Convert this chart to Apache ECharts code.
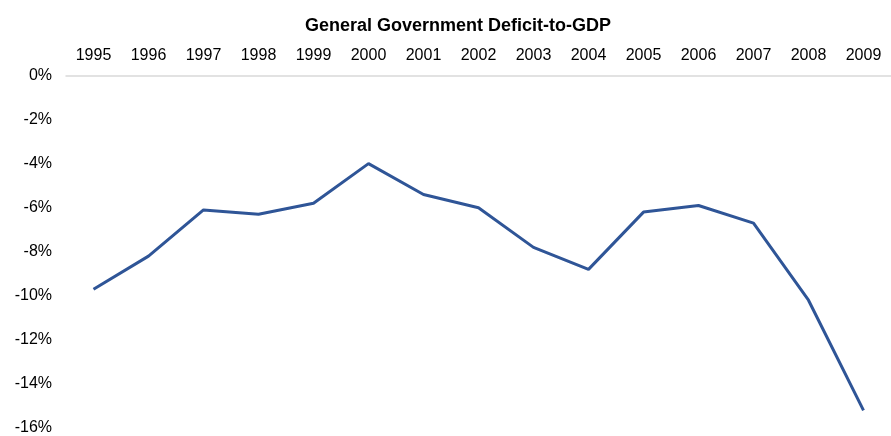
<!DOCTYPE html>
<html>
<head>
<meta charset="utf-8">
<script src="https://cdn.jsdelivr.net/npm/echarts@6/dist/echarts.min.js"></script>
<style>
  html, body { margin: 0; padding: 0; background: #fff; }
  #chart { width: 891px; height: 436px; }
</style>
</head>
<body>
<div id="chart"></div>
<script>
// General government balance as a share of GDP, in percent
const years = ['1995', '1996', '1997', '1998', '1999', '2000', '2001', '2002',
               '2003', '2004', '2005', '2006', '2007', '2008', '2009'];
const deficitToGdp = [-9.7, -8.2, -6.1, -6.3, -5.8, -4.0, -5.4, -6.0,
                      -7.8, -8.8, -6.2, -5.9, -6.7, -10.2, -15.2];
const yMin = -16;
const yMax = 0;
const yStep = 2;

const fontFamily = '"Liberation Sans", Arial, sans-serif';

const chart = echarts.init(document.getElementById('chart'), null, { renderer: 'canvas' });
chart.setOption({
  animation: false,
  backgroundColor: '#ffffff',
  title: {
    text: 'General Government Deficit-to-GDP',
    left: 300,
    top: 12,
    textStyle: { fontFamily, fontSize: 18, fontWeight: 'bold', color: '#000' }
  },
  grid: { left: 66, right: -2, top: 75.5, bottom: 8, containLabel: false },
  xAxis: {
    type: 'category',
    position: 'top',
    data: years,
    boundaryGap: true,
    axisLine: { show: true, lineStyle: { color: '#d9d9d9', width: 1.5 } },
    axisTick: { show: false },
    axisLabel: { margin: 12, fontFamily, fontSize: 16, color: '#000', interval: 0 },
    splitLine: { show: false }
  },
  yAxis: {
    type: 'value',
    min: yMin,
    max: yMax,
    interval: yStep,
    axisLine: { show: false },
    axisTick: { show: false },
    splitLine: { show: false },
    axisLabel: { margin: 14, fontFamily, fontSize: 16, color: '#000', formatter: '{value}%' }
  },
  series: [{
    type: 'line',
    data: deficitToGdp,
    symbol: 'none',
    lineStyle: { color: '#2F5597', width: 3 }
  }]
});
</script>
</body>
</html>
